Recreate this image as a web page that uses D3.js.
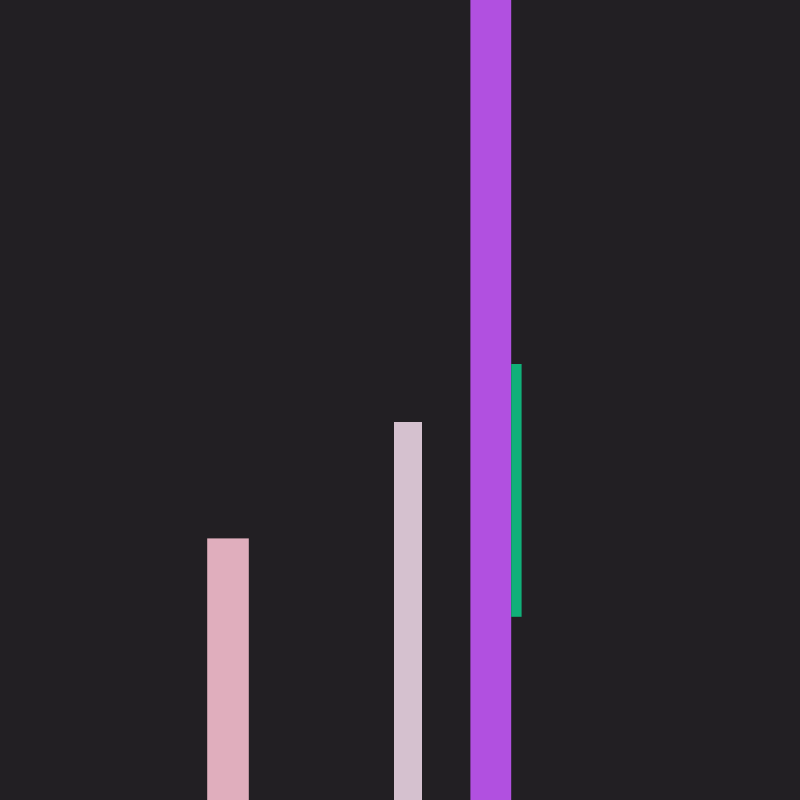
<!DOCTYPE html>
<html>
<head>
<meta charset="utf-8">
<script src="https://cdn.jsdelivr.net/npm/d3@7"></script>
<style>
  html, body { margin: 0; padding: 0; background: #221f23; }
  svg { display: block; }
</style>
</head>
<body>
<svg width="800" height="800"></svg>
<script>
// bar extents along x (arbitrary units) and their low / high values
var barStart = [5.18, 9.85, 11.76, 12.78];
var barEnd   = [6.22, 10.55, 12.78, 13.04];
var barLow   = [0, 0, 0, 22.9];
var barHigh  = [32.7, 47.25, 105, 54.5];
var barColors = ["#e0aebd", "#d5c1cf", "#b150e0", "#10b079"];

const svg = d3.select("svg");
const svgWidth = 800, svgHeight = 800;

const x = d3.scaleLinear().domain([0, 20]).range([0, svgWidth]);
const y = d3.scaleLinear().domain([0, 100]).range([svgHeight, 0]);

svg.append("rect")
    .attr("width", svgWidth)
    .attr("height", svgHeight)
    .attr("fill", "#221f23");

svg.selectAll("rect.bar")
    .data(barStart)
    .enter().append("rect")
    .attr("class", "bar")
    .attr("x", (d, i) => x(d))
    .attr("width", (d, i) => x(barEnd[i]) - x(d))
    .attr("y", (d, i) => y(barHigh[i]))
    .attr("height", (d, i) => y(barLow[i]) - y(barHigh[i]))
    .attr("fill", (d, i) => barColors[i]);
</script>
</body>
</html>
